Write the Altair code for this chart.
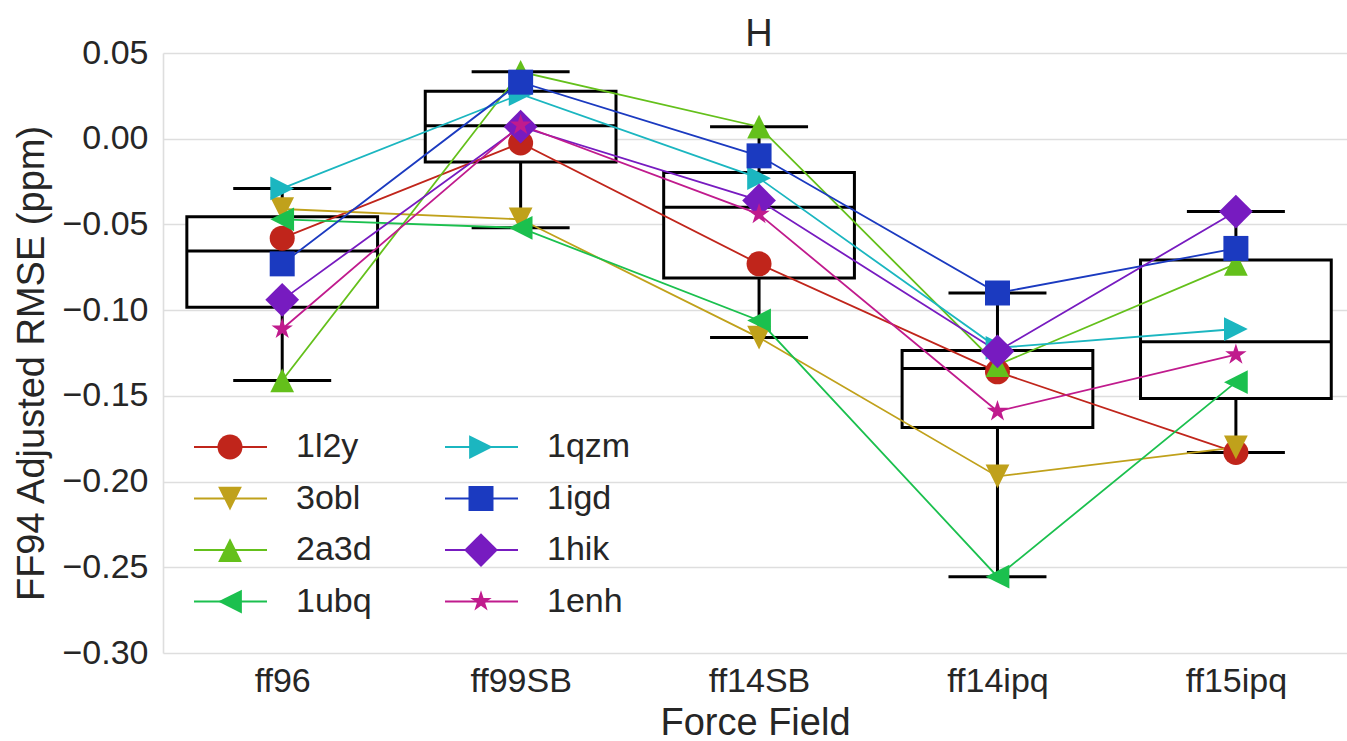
import json
import altair as alt
import pandas as pd

# ---------------- data ----------------
categories = ["ff96", "ff99SB", "ff14SB", "ff14ipq", "ff15ipq"]
series = ["1l2y", "3obl", "2a3d", "1ubq", "1qzm", "1igd", "1hik", "1enh"]

v_1l2y = [-0.058, -0.0025, -0.073, -0.136, -0.183]
v_3obl = [-0.041, -0.047, -0.116, -0.197, -0.180]
v_2a3d = [-0.141, 0.039, 0.007, -0.132, -0.073]
v_1ubq = [-0.047, -0.052, -0.106, -0.2555, -0.142]
v_1qzm = [-0.029, 0.026, -0.023, -0.122, -0.111]
v_1igd = [-0.073, 0.033, -0.010, -0.090, -0.064]
v_1hik = [-0.094, 0.007, -0.036, -0.124, -0.0425]
v_1enh = [-0.111, 0.008, -0.044, -0.159, -0.126]

y_ticks = [-0.30, -0.25, -0.20, -0.15, -0.10, -0.05, 0.00, 0.05]
chart_title = "H"

values = [v_1l2y, v_3obl, v_2a3d, v_1ubq, v_1qzm, v_1igd, v_1hik, v_1enh]

# ---------------- styles ----------------
colors = ["#C0251B", "#C0A11B", "#64C01B", "#1BC04E",
          "#1BB6C0", "#1B3AC0", "#771BC0", "#C01B8D"]
star = ("M0,-0.9L0.202,-0.278L0.856,-0.278L0.327,0.106L0.529,0.728L0,0.344"
        "L-0.529,0.728L-0.327,0.106L-0.856,-0.278L-0.202,-0.278Z")
shapes = [
    "circle",
    "M-0.95,-0.95L0.95,-0.95L0,0.95Z",      # triangle down
    "M0,-0.95L0.95,0.95L-0.95,0.95Z",       # triangle up
    "M-0.95,0L0.95,-0.95L0.95,0.95Z",       # triangle left
    "M0.95,0L-0.95,-0.95L-0.95,0.95Z",      # triangle right
    "square",
    "M0,-1.35L1.35,0L0,1.35L-1.35,0Z",      # diamond
    star,
]
FONT = "Liberation Sans"
TXT = "#262626"
GRID = "#dedede"

W, H = 1184, 600
X0, X1 = -0.5, 4.466
Y0, Y1 = -0.30, 0.05
PXX = W / (X1 - X0)       # pixels per x unit
PXY = H / (Y1 - Y0)       # pixels per y unit

rows = []
for s, vals in zip(series, values):
    for i, (c, v) in enumerate(zip(categories, vals)):
        rows.append({"series": s, "cat": c, "pos": i, "value": v})
df = pd.DataFrame(rows)

leg = pd.DataFrame({"series": series, "idx": list(range(len(series)))})
ttl = pd.DataFrame({"text": [chart_title], "n": [len(categories)]})

xs = alt.Scale(domain=[X0, X1], nice=False, zero=False)
ys = alt.Scale(domain=[Y0, Y1], nice=False, zero=False)
cs = alt.Scale(domain=series, range=colors)
ss = alt.Scale(domain=series, range=shapes)

label_expr = json.dumps(categories) + "[datum.value]"

x_axis = alt.Axis(values=list(range(len(categories))), labelExpr=label_expr,
                  title="Force Field", grid=False, ticks=False, domain=False,
                  labelFontSize=34, labelFont=FONT, labelColor=TXT, labelPadding=11,
                  labelFlush=False, labelOverlap=False,
                  titleFontSize=38, titleFont=FONT, titleColor=TXT,
                  titleFontWeight="normal", titleBaseline="alphabetic", titleY=81)
y_axis = alt.Axis(values=y_ticks, format=".2f", title="FF94 Adjusted RMSE (ppm)",
                  grid=True, gridColor=GRID, gridWidth=1.6, ticks=False,
                  domain=True, domainColor=GRID, domainWidth=1.6,
                  labelFontSize=34, labelFont=FONT, labelColor=TXT, labelPadding=15,
                  titleFontSize=38, titleFont=FONT, titleColor=TXT,
                  titleFontWeight="normal", titleBaseline="alphabetic",
                  titleAngle=270, titleAlign="center", titleX=-120, titleY=310)


def X(field):
    return alt.X(field, scale=xs, axis=x_axis)


def Y(field):
    return alt.Y(field, scale=ys, axis=y_axis)


base = alt.Chart(df)

stats = base.transform_aggregate(
    q1="q1(value)", q3="q3(value)", med="median(value)",
    lo="min(value)", hi="max(value)", groupby=["pos"]
).transform_calculate(
    bx1="datum.pos - 0.4", bx2="datum.pos + 0.4",
    cx1="datum.pos - 0.2055", cx2="datum.pos + 0.2055",
)

whisker = stats.mark_rule(color="black", strokeWidth=3).encode(
    x=X("pos:Q"), y=Y("lo:Q"), y2="hi:Q",
)
box = stats.mark_rect(fill="white", stroke="black", strokeWidth=3).encode(
    x=X("bx1:Q"), x2="bx2:Q", y=Y("q1:Q"), y2="q3:Q",
)
median = stats.mark_rule(color="black", strokeWidth=3).encode(
    x=X("bx1:Q"), x2="bx2:Q", y=Y("med:Q"),
)
cap_lo = stats.mark_rule(color="black", strokeWidth=3).encode(
    x=X("cx1:Q"), x2="cx2:Q", y=Y("lo:Q"),
)
cap_hi = stats.mark_rule(color="black", strokeWidth=3).encode(
    x=X("cx1:Q"), x2="cx2:Q", y=Y("hi:Q"),
)

lines = base.mark_line(strokeWidth=1.8).encode(
    x=X("pos:Q"), y=Y("value:Q"),
    color=alt.Color("series:N", scale=cs, legend=None),
    order="pos:Q",
)
points = base.mark_point(filled=True, size=625, opacity=1, strokeWidth=0).encode(
    x=X("pos:Q"), y=Y("value:Q"),
    color=alt.Color("series:N", scale=cs, legend=None),
    shape=alt.Shape("series:N", scale=ss, legend=None),
)


# ---------------- manual legend (two columns), placed in plot pixels ----------------
def px_x(expr):
    return f"{X0} + ({expr}) / {PXX}"


def px_y(expr):
    return f"{Y1} - ({expr}) / {PXY}"


legbase = alt.Chart(leg).transform_calculate(
    col="floor(datum.idx / 4)", row="datum.idx % 4"
).transform_calculate(
    lx=px_x("67 + datum.col * 251"),
    lx1=px_x("31 + datum.col * 251"),
    lx2=px_x("104 + datum.col * 251"),
    tx=px_x("133 + datum.col * 251"),
    ly=px_y("394 + datum.row * 51.5"),
)
leg_rule = legbase.mark_rule(strokeWidth=1.8).encode(
    x=X("lx1:Q"), x2="lx2:Q", y=Y("ly:Q"),
    color=alt.Color("series:N", scale=cs, legend=None),
)
leg_pt = legbase.mark_point(filled=True, size=625, opacity=1, strokeWidth=0).encode(
    x=X("lx:Q"), y=Y("ly:Q"),
    color=alt.Color("series:N", scale=cs, legend=None),
    shape=alt.Shape("series:N", scale=ss, legend=None),
)
leg_txt = legbase.mark_text(align="left", baseline="middle", fontSize=34,
                            font=FONT, color=TXT).encode(
    x=X("tx:Q"), y=Y("ly:Q"), text="series:N",
)

# ---------------- title, centred over the categories, just above the plot ----------------
title_txt = alt.Chart(ttl).transform_calculate(
    tx="(datum.n - 1) / 2", ty=px_y("-7")
).mark_text(align="center", baseline="alphabetic", fontSize=38, font=FONT,
            color=TXT).encode(
    x=X("tx:Q"), y=Y("ty:Q"), text="text:N",
)

chart = alt.layer(
    whisker, box, median, cap_lo, cap_hi, lines, points,
    leg_rule, leg_pt, leg_txt, title_txt
).properties(
    width=W, height=H,
    padding={"left": 163, "top": 53, "right": 0, "bottom": 88},
    autosize=alt.AutoSizeParams(type="none"),
    background="white",
).configure_view(stroke=None)

chart.save("out.html", embed_options={"renderer": "svg", "actions": False})
